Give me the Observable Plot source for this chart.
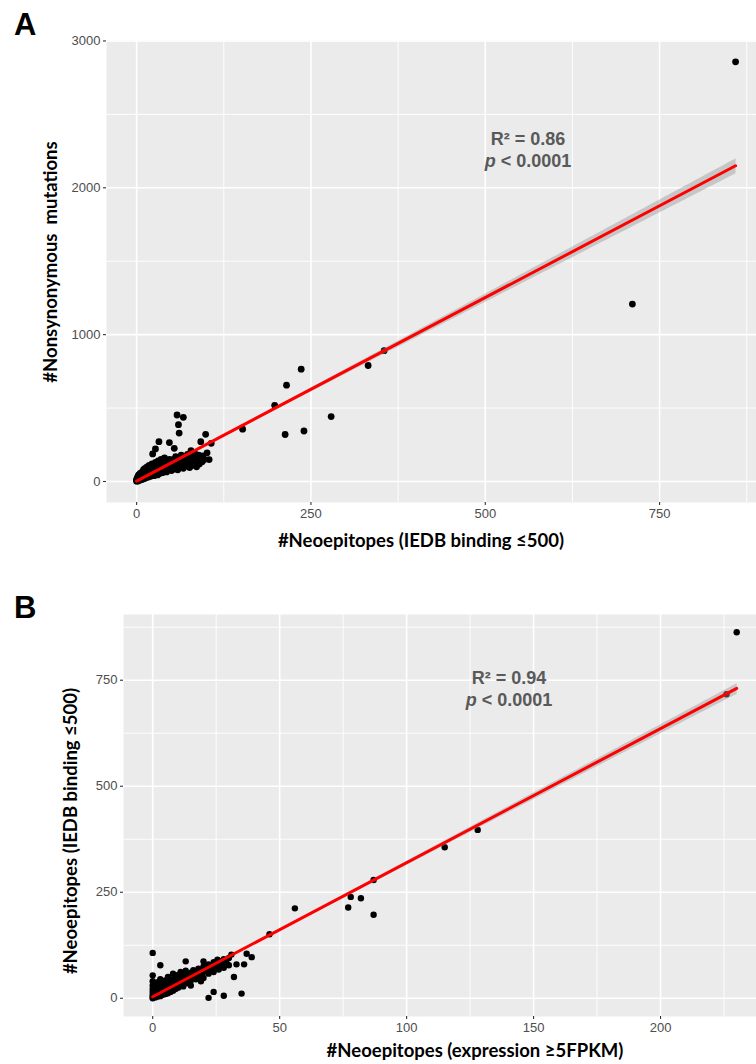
<!DOCTYPE html>
<html><head><meta charset="utf-8">
<script src="https://cdn.jsdelivr.net/npm/d3@7"></script>
<script src="https://cdn.jsdelivr.net/npm/@observablehq/plot@0.6"></script>
<style>
body{margin:0;width:756px;height:1064px;overflow:hidden;background:#fff;position:relative;font-family:"Liberation Sans",Arial,sans-serif}
.pan{position:absolute;left:0}
#overlay{position:absolute;left:0;top:0;pointer-events:none}
#overlay text{white-space:pre}
</style></head>
<body>
<div id="a" class="pan" style="top:0"></div>
<div id="b" class="pan" style="top:560px"></div>
<script>
// ---- Panel A: #Neoepitopes (IEDB binding <=500) vs #Nonsynonymous mutations
const aTickX = [0, 250, 500, 750];
const aTickY = [0, 1000, 2000, 3000];
const aMinorX = [125, 375, 625, 875];
const aMinorY = [500, 1500, 2500];
const aCluster = [
 [0,2],[0,8],[0,15],[1,5],[1,12],[1,25],[2,4],[2,18],[2,35],[3,10],[3,28],[3,45],[4,8],[4,22],[4,40],[5,15],[5,30],[5,55],
 [6,12],[6,35],[7,20],[7,50],[8,15],[8,40],[8,65],[9,25],[10,18],[10,45],[10,80],[11,30],[12,22],[12,55],[12,90],[13,40],[14,28],[14,70],[15,35],[15,60],[15,100],
 [16,45],[17,30],[17,80],[18,50],[18,110],[19,40],[20,60],[20,35],[20,95],[21,70],[22,45],[22,120],[23,85],[24,55],[25,40],[25,100],[26,70],[27,130],[28,50],[28,90],[29,115],[30,65],[30,45],
 [31,140],[32,80],[33,55],[34,105],[35,70],[35,150],[36,95],[37,60],[38,120],[39,85],[40,70],[40,160],[41,110],[42,90],[43,65],[44,135],[45,100],[46,80],[47,150],[48,115],[49,90],[50,130],[50,75],
 [52,105],[53,150],[54,85],[55,125],[56,170],[57,100],[58,140],[59,80],[60,115],[61,160],[62,95],[63,130],[64,180],[65,110],[66,145],[67,90],[68,125],[69,165],[70,105],
 [72,140],[73,185],[74,115],[75,155],[76,95],[78,130],[79,175],[80,110],[82,150],[83,195],[84,125],[85,165],[86,100],[88,140],[89,180],[90,120],[92,160],[94,135],[95,175],[97,150]
];
const aScatter = [
 [58,453],[67,437],[60,387],[61,330],[32,271],[47,265],[99,321],[92,271],[27,222],[54,226],[107,260],[101,195],[104,149],[88,154],[23,188],[78,210]
];
const aOutliers = [
 [859,2858],[711,1208],[355,891],[332,790],[279,442],[240,344],[236,765],[215,656],[213,320],[198,519],[152,356]
];

// ---- Panel B: #Neoepitopes (expression >=5FPKM) vs #Neoepitopes (IEDB binding <=500)
const bTickX = [0, 50, 100, 150, 200];
const bTickY = [0, 250, 500, 750];
const bMinorX = [25, 75, 125, 175, 225];
const bMinorY = [125, 375, 625, 875];
const bCluster = [
 [0,0],[0,3],[0,8],[0,15],[0,22],[0,30],[0,40],[1,2],[1,6],[1,12],[1,20],[1,28],[1,35],[2,4],[2,10],[2,18],[2,26],[2,38],
 [3,5],[3,12],[3,20],[3,30],[3,45],[4,8],[4,15],[4,25],[4,35],[5,10],[5,18],[5,30],[5,42],[6,12],[6,22],[6,35],[6,50],
 [7,15],[7,28],[7,40],[8,18],[8,30],[8,45],[8,58],[9,22],[9,35],[9,50],[10,25],[10,38],[10,55],[11,30],[11,45],[11,62],[12,28],[12,40],[12,52],
 [13,35],[13,50],[13,65],[14,38],[14,55],[15,42],[15,60],[15,30],[16,48],[16,66],[17,45],[17,58],[18,50],[18,70],[19,55],[19,40],[20,62],[20,75],[20,48],
 [21,68],[22,58],[22,80],[23,70],[24,62],[24,85],[25,75],[26,68],[26,88],[27,80],[28,72],[28,92],[29,84],[30,78],[30,95]
];
const bScatter = [
 [0,107],[3,78],[0,54],[13,87],[31,103],[39,97],[36,80],[32,50],[22,1],[24,15],[28,6],[35,11],[20,87],[25.5,91],[33,80],[37,105]
];
const bOutliers = [
 [230,863],[226,717],[128,397],[115,356],[87,279],[87,197],[82,236],[78,239],[77,214],[56,212],[46,151]
];

const toRows = (...lists) => lists.flat().map(([x, y]) => ({x, y}));
const aData = toRows(aCluster, aScatter, aOutliers);
const bData = toRows(bCluster, bScatter, bOutliers);

function panel(o) {
  return Plot.plot({
    width: 756, height: o.h,
    marginTop: o.mt, marginBottom: o.mb, marginLeft: o.ml, marginRight: 0,
    x: {domain: o.xd}, y: {domain: o.yd},
    style: {fontFamily: "Liberation Sans, Arial, sans-serif", fontSize: "13px", background: "transparent"},
    marks: [
      Plot.frame({fill: "#EBEBEB", stroke: "none"}),
      Plot.ruleX(o.minorX, {stroke: "#fff", strokeWidth: 0.9}),
      Plot.ruleY(o.minorY, {stroke: "#fff", strokeWidth: 0.9}),
      Plot.ruleX(o.tickX, {stroke: "#fff", strokeWidth: 1.6}),
      Plot.ruleY(o.tickY, {stroke: "#fff", strokeWidth: 1.6}),
      Plot.dot(o.data, {x: "x", y: "y", r: o.r, fill: "#000", stroke: "none"}),
      Plot.linearRegressionY(o.data, {x: "x", y: "y", ci: o.ci, stroke: "#FF0000", strokeWidth: 3, fill: "#999", fillOpacity: 0.45}),
      Plot.axisX(o.tickX, {tickSize: 3, tickPadding: 3, fontSize: 13, stroke: "#333", strokeWidth: 1.1, fill: "#4D4D4D", label: null, tickFormat: d3.format("d")}),
      Plot.axisY(o.tickY, {tickSize: 3, tickPadding: 3, fontSize: 13, stroke: "#333", strokeWidth: 1.1, fill: "#4D4D4D", label: null, tickFormat: d3.format("d")})
    ]
  });
}

document.getElementById("a").append(panel({
  h: 560, mt: 40, mb: 58, ml: 106, xd: [-43.2, 889], yd: [-143, 3003], r: 3.4, ci: 0.55,
  tickX: aTickX, tickY: aTickY, minorX: aMinorX, minorY: aMinorY, data: aData
}));
document.getElementById("b").append(panel({
  h: 504, mt: 54, mb: 48, ml: 123, xd: [-11.5, 237.8], yd: [-43, 905], r: 3.2, ci: 0.55,
  tickX: bTickX, tickY: bTickY, minorX: bMinorX, minorY: bMinorY, data: bData
}));

// text overlay
const ns = "http://www.w3.org/2000/svg";
const svg = document.createElementNS(ns, "svg");
svg.setAttribute("id", "overlay"); svg.setAttribute("width", 756); svg.setAttribute("height", 1064);
document.body.append(svg);
function txt(str, x, y, opt = {}) {
  const t = document.createElementNS(ns, "text");
  t.setAttribute("x", x); t.setAttribute("y", y);
  t.setAttribute("font-family", opt.family || "Liberation Sans, Arial, sans-serif");
  t.setAttribute("font-size", opt.size || 13);
  t.setAttribute("font-weight", opt.weight || "bold");
  t.setAttribute("fill", opt.fill || "#000");
  t.setAttribute("text-anchor", opt.anchor || "start");
  if (opt.rotate) t.setAttribute("transform", `rotate(-90 ${x} ${y})`);
  if (Array.isArray(str)) {
    for (const [s, style] of str) {
      const ts = document.createElementNS(ns, "tspan");
      ts.textContent = s;
      if (style === "i") ts.setAttribute("font-style", "italic");
      t.append(ts);
    }
  } else t.textContent = str;
  svg.append(t);
  return t;
}
const titleFont = "Lato, Carlito, Liberation Sans, sans-serif";
txt("A", 14, 35, {size: 31});
txt("B", 14, 618, {size: 31});
txt("#Neoepitopes (IEDB binding \u2264500)", 421, 547, {size: 18.5, family: titleFont, anchor: "middle"});
txt("#Nonsynonymous  mutations", 57, 262, {size: 18.5, family: titleFont, anchor: "middle", rotate: true});
txt("#Neoepitopes (expression \u22655FPKM)", 475, 1057, {size: 18.5, family: titleFont, anchor: "middle"});
txt("#Neoepitopes (IEDB binding \u2264500)", 77, 831, {size: 18.5, family: titleFont, anchor: "middle", rotate: true});
const annoCol = "#595959";
txt("R\u00B2 = 0.86", 528, 145, {size: 18, fill: annoCol, anchor: "middle"});
txt([["p", "i"], [" < 0.0001", ""]], 528, 167, {size: 18, fill: annoCol, anchor: "middle"});
txt("R\u00B2 = 0.94", 509, 684, {size: 18, fill: annoCol, anchor: "middle"});
txt([["p", "i"], [" < 0.0001", ""]], 509, 706, {size: 18, fill: annoCol, anchor: "middle"});
</script>
</body></html>
